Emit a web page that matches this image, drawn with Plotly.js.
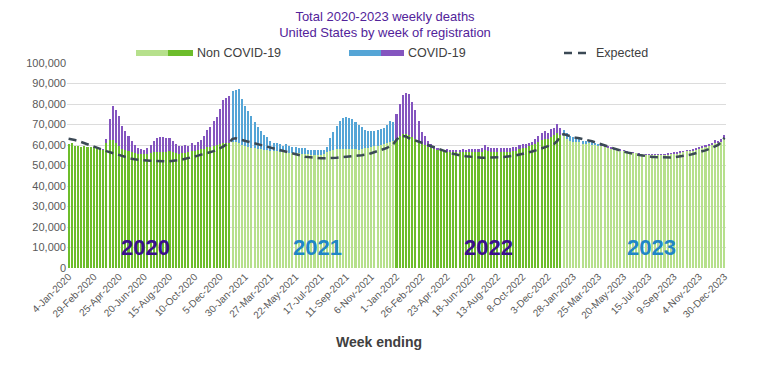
<!DOCTYPE html>
<html>
<head>
<meta charset="utf-8">
<script src="https://cdn.plot.ly/plotly-3.0.1.min.js"></script>
<style>html,body{margin:0;padding:0;background:#fff;}#chart{width:770px;height:384px;}</style>
</head>
<body>
<div id="chart"></div>
<script>
// ---- Data (weekly deaths) ----
const firstWeekEnding = '2020-01-04';
const weekCount = 209;

const tickEvery = 8;

const weeklyTotal = [
  // 2020
  60500, 61000, 59500, 59300, 59000, 59500, 59000, 59000, 59200, 58800, 58500, 58000, 63000, 72500, 79000, 77000, 74000, 69500, 67000, 64500,
  62000, 60000, 58500, 58000, 57500, 58500, 60000, 62000, 63500, 64000, 64000, 63500, 63500, 62000, 60500, 59500, 59500, 60000, 59500, 61000,
  60000, 61500, 62500, 64500, 67500, 69000, 71500, 73500, 77500, 82000, 83000, 84000,
  // 2021
  86500, 86800, 87200, 82500, 79000, 76500, 74000, 71000, 69000, 67000, 65000, 64000, 62000, 61000, 61000, 60300, 59500, 60500, 59500, 59000,
  59000, 58500, 58500, 58500, 57500, 57500, 57500, 57500, 57500, 57800, 59000, 63500, 66500, 69500, 71500, 73000, 73700, 73300, 72500, 71000,
  70000, 69000, 67500, 67000, 66800, 66800, 67200, 67600, 68100, 70000, 71700, 71200,
  // 2022
  75000, 80000, 84500, 85500, 84700, 81000, 77000, 71500, 66500, 64500, 62000, 60500, 59500, 58700, 58000, 57600, 57900, 57400, 57600, 57600,
  57800, 58000, 57800, 57900, 58000, 58000, 58000, 58300, 59800, 59000, 58700, 58500, 58400, 58400, 58500, 58600, 58500, 59000, 58800, 60000,
  60300, 60300, 61100, 61500, 62800, 64400, 66000, 66800, 66000, 67600, 68500, 70300, 68500,
  // 2023
  67500, 65800, 64500, 63800, 63500, 63500, 62000, 62000, 62500, 61300, 61000, 60500, 60300, 60000, 59500, 58800, 58500, 58200, 57900, 57600,
  57100, 56700, 56600, 56300, 56000, 55800, 55700, 55600, 55500, 55400, 55600, 55500, 55700, 56000, 56300, 56600, 56600, 57000, 57300, 57800,
  57800, 58100, 58400, 59000, 59500, 59800, 60300, 61100, 62300, 62000, 63000, 64700
];

const nonCovid = [
  // 2020
  60500, 61000, 59500, 59300, 59000, 59500, 59000, 59000, 59200, 58800, 58500, 57800, 61000, 62500, 62500, 61000, 59500, 58000, 57500, 57000,
  56500, 56000, 55500, 55500, 55500, 55500, 56000, 56500, 56500, 56500, 56500, 56500, 57000, 56500, 56000, 55500, 56000, 56000, 56500, 57000,
  57000, 57500, 58000, 58000, 59000, 59000, 59500, 60000, 60500, 61000, 61000, 61000,
  // 2021
  61500, 61500, 61000, 60000, 59500, 59000, 58500, 58500, 58000, 58000, 57500, 57500, 57000, 57000, 57000, 56500, 56500, 56500, 56000, 56000,
  56000, 56000, 55500, 55500, 55500, 55000, 55000, 55000, 55000, 55500, 56500, 57000, 57500, 58000, 58000, 58000, 58000, 58000, 58000, 58000,
  57800, 58000, 58300, 58600, 59000, 59300, 59600, 60000, 60500, 61000, 61500, 62000,
  // 2022
  63000, 64500, 65500, 65500, 65000, 64000, 63000, 62000, 60500, 60000, 59000, 58500, 58000, 57500, 57000, 56800, 56800, 56500, 56500, 56500,
  56500, 56800, 56500, 56500, 56500, 56500, 56500, 56500, 57500, 57000, 56500, 56500, 56500, 56500, 56500, 56700, 56800, 57200, 57200, 58000,
  58500, 58700, 59300, 59800, 60500, 61500, 62500, 63000, 63000, 64000, 65000, 66000, 65000,
  // 2023
  64500, 63000, 62000, 61500, 61500, 61500, 60500, 60500, 61000, 60000, 59800, 59500, 59300, 59000, 58600, 58000, 57800, 57500, 57300, 57000,
  56600, 56200, 56100, 55900, 55600, 55400, 55300, 55200, 55100, 55000, 55100, 55000, 55100, 55300, 55600, 55800, 55800, 56200, 56500, 57000,
  57000, 57300, 57600, 58200, 58700, 59000, 59500, 60200, 61200, 60800, 61700, 63300
];

const expected = [
  // 2020
  63000, 62800, 62400, 62000, 61500, 60800, 60300, 59800, 59300, 58700, 58200, 57600, 57000, 56500, 56000, 55500, 55000, 54500, 54000, 53600,
  53300, 53000, 52800, 52600, 52500, 52400, 52300, 52200, 52100, 52000, 52000, 52000, 52100, 52200, 52400, 52600, 52900, 53200, 53600, 54000,
  54400, 54800, 55200, 55600, 56000, 56500, 57000, 57600, 58300, 59200, 60200, 61300,
  // 2021
  63000, 63300, 62800, 62300, 62000, 61600, 61200, 60800, 60400, 60000, 59500, 59000, 58600, 58300, 58000, 57500, 57000, 56500, 56100, 55700,
  55300, 55000, 54600, 54300, 54100, 53900, 53800, 53600, 53500, 53500, 53500, 53600, 53700, 53800, 54000, 54200, 54400, 54600, 54700, 54800,
  54900, 55000, 55200, 55500, 56000, 56500, 57000, 57400, 57900, 58600, 59500, 60500,
  // 2022
  62500, 64000, 64400, 64200, 63300, 62800, 62300, 61800, 61200, 60600, 60000, 59400, 58800, 58200, 57600, 57100, 56600, 56100, 55700, 55300,
  55000, 54700, 54500, 54300, 54100, 54000, 53900, 53800, 53800, 53800, 53800, 53900, 54000, 54100, 54200, 54300, 54500, 54700, 55000, 55300,
  55600, 56000, 56400, 56800, 57300, 57800, 58300, 58900, 59300, 59800, 60500, 62000, 64500,
  // 2023
  65300, 64800, 64200, 63700, 63500, 63300, 63000, 62600, 62200, 61800, 61300, 60800, 60200, 59600, 59000, 58500, 58000, 57600, 57200, 56800,
  56400, 56000, 55700, 55400, 55100, 54900, 54600, 54400, 54200, 54100, 54000, 53900, 53800, 53800, 53900, 54000, 54200, 54400, 54600, 54900,
  55200, 55600, 56000, 56400, 56900, 57400, 58000, 58600, 59200, 60000, 61500, 63500
];

const yearLabels = ['2020', '2021', '2022', '2023'];
const seriesNames = ['Non COVID-19', 'COVID-19', 'Expected'];

// ---- Categories: week-ending dates ----
const MONTHS = ['Jan','Feb','Mar','Apr','May','Jun','Jul','Aug','Sep','Oct','Nov','Dec'];
const start = new Date(firstWeekEnding + 'T00:00:00Z');
const weekEnding = [];
const weekYear = [];
for (let i = 0; i < weekCount; i++) {
  const d = new Date(start.getTime() + i * 7 * 86400000);
  weekEnding.push(d.getUTCDate() + '-' + MONTHS[d.getUTCMonth()] + '-' + d.getUTCFullYear());
  weekYear.push(d.getUTCFullYear());
}
const tickLabels = weekEnding.filter((_, i) => i % tickEvery === 0);
const covid = weeklyTotal.map((t, i) => t - nonCovid[i]);

// ---- Styling ----
const C = {
  greenLight: '#b6e08c', greenDark: '#6dbd2b',
  blue: '#55a5d6', purple: '#8455bf',
  expected: '#3b4955', grid: '#dcdcdc', text: '#595959',
  yearDark: '#3b0f8c', yearBlue: '#1f86c6', title: '#52239a'
};
const isDark = y => (y === 2020 || y === 2022);
let firstOf2023 = weekYear.indexOf(2023);
const greenColors = weekYear.map(y => isDark(y) ? C.greenDark : C.greenLight);
const covidColors = weekYear.map((y, i) => {
  if (isDark(y)) return C.purple;
  if (y === 2023 && i - firstOf2023 >= 12) return C.purple;
  return C.blue;
});

const traces = [
  { type: 'bar', name: seriesNames[0], x: weekEnding, y: nonCovid,
    marker: { color: greenColors, line: { width: 0 } }, hoverinfo: 'skip' },
  { type: 'bar', name: seriesNames[1], x: weekEnding, y: covid,
    marker: { color: covidColors, line: { width: 0 } }, hoverinfo: 'skip' },
  { type: 'scatter', mode: 'lines', name: seriesNames[2], x: weekEnding, y: expected,
    line: { color: C.expected, width: 2.5, dash: '8px,5px' }, hoverinfo: 'skip' }
];

// pixel -> paper helpers for decorations (plot area 67..726 x 63..268)
const L = 67, R = 726, T = 63, B = 268;
const px = p => (p - L) / (R - L);
const py = p => (B - p) / (B - T);

const legY = 53;
const shapes = [
  { type: 'rect', xref: 'paper', yref: 'paper', x0: px(136), x1: px(168), y0: py(50), y1: py(56), fillcolor: C.greenLight, line: { width: 0 } },
  { type: 'rect', xref: 'paper', yref: 'paper', x0: px(168), x1: px(193), y0: py(50), y1: py(56), fillcolor: C.greenDark, line: { width: 0 } },
  { type: 'rect', xref: 'paper', yref: 'paper', x0: px(349), x1: px(381), y0: py(50), y1: py(56), fillcolor: C.blue, line: { width: 0 } },
  { type: 'rect', xref: 'paper', yref: 'paper', x0: px(381), x1: px(404), y0: py(50), y1: py(56), fillcolor: C.purple, line: { width: 0 } },
  { type: 'line', xref: 'paper', yref: 'paper', x0: px(564), x1: px(591), y0: py(legY), y1: py(legY), line: { color: C.expected, width: 2.5, dash: '8px,6px' } }
];

const annotations = [
  { xref: 'paper', yref: 'paper', x: px(195), y: py(legY), xanchor: 'left', yanchor: 'middle', showarrow: false, text: seriesNames[0], font: { size: 12.5, color: '#404040' } },
  { xref: 'paper', yref: 'paper', x: px(406), y: py(legY), xanchor: 'left', yanchor: 'middle', showarrow: false, text: seriesNames[1], font: { size: 12.5, color: '#404040' } },
  { xref: 'paper', yref: 'paper', x: px(594), y: py(legY), xanchor: 'left', yanchor: 'middle', showarrow: false, text: seriesNames[2], font: { size: 12.5, color: '#404040' } },
  { xref: 'paper', yref: 'paper', x: px(379), y: py(342), xanchor: 'center', yanchor: 'middle', showarrow: false, text: '<b>Week ending</b>', font: { size: 14, color: '#404040' } },
  { xref: 'paper', yref: 'paper', x: px(145), y: py(247), xanchor: 'center', yanchor: 'middle', showarrow: false, text: '<b>' + yearLabels[0] + '</b>', font: { size: 22, color: C.yearDark } },
  { xref: 'paper', yref: 'paper', x: px(317), y: py(247), xanchor: 'center', yanchor: 'middle', showarrow: false, text: '<b>' + yearLabels[1] + '</b>', font: { size: 22, color: C.yearBlue } },
  { xref: 'paper', yref: 'paper', x: px(489), y: py(247), xanchor: 'center', yanchor: 'middle', showarrow: false, text: '<b>' + yearLabels[2] + '</b>', font: { size: 22, color: C.yearDark } },
  { xref: 'paper', yref: 'paper', x: px(651), y: py(247), xanchor: 'center', yanchor: 'middle', showarrow: false, text: '<b>' + yearLabels[3] + '</b>', font: { size: 22, color: C.yearBlue } }
];

const layout = {
  width: 770, height: 384,
  margin: { l: L, r: 770 - R, t: T, b: 384 - B, pad: 0 },
  paper_bgcolor: '#ffffff', plot_bgcolor: '#ffffff',
  font: { family: 'Liberation Sans, Arial, sans-serif', color: C.text, size: 11 },
  title: {
    text: 'Total 2020-2023 weekly deaths<br>United States by week of registration',
    font: { size: 13, color: C.title },
    x: 0.5, xref: 'container', xanchor: 'center',
    y: 1 - 20.5 / 384, yref: 'container', yanchor: 'middle'
  },
  barmode: 'stack', bargap: 0.35,
  showlegend: false,
  xaxis: {
    type: 'category', tickmode: 'array', tickvals: tickLabels, ticktext: tickLabels,
    tickangle: -45, tickfont: { size: 10, color: C.text },
    showgrid: false, showline: false, zeroline: false, ticks: '', automargin: false
  },
  yaxis: {
    range: [0, 100000], dtick: 10000, tickformat: ',', tickfont: { size: 11, color: C.text },
    showgrid: true, gridcolor: C.grid, gridwidth: 1, zeroline: false, showline: false, ticks: '', automargin: false
  },
  shapes: shapes,
  annotations: annotations
};

Plotly.newPlot('chart', traces, layout, { staticPlot: true, displayModeBar: false });
</script>
</body>
</html>
